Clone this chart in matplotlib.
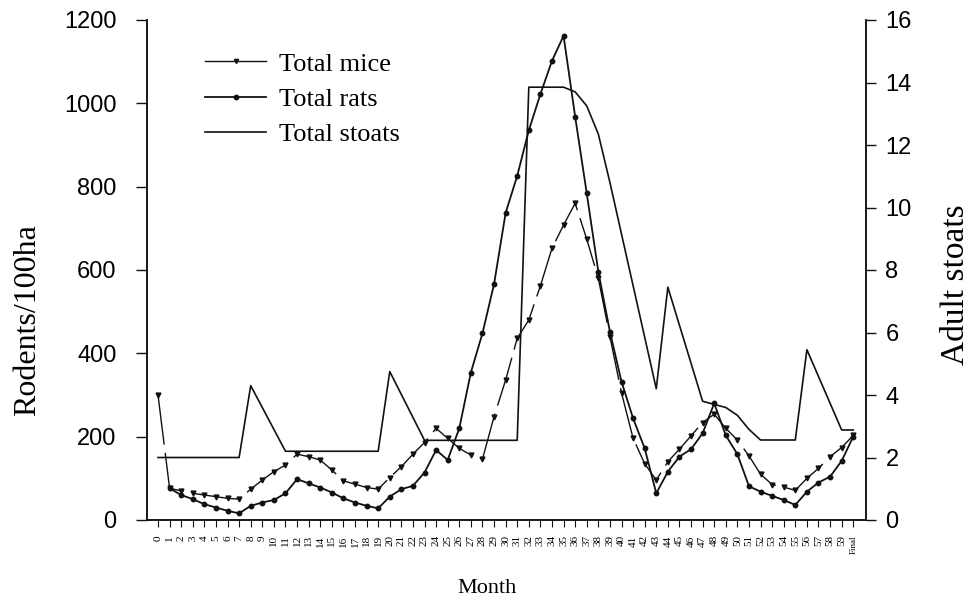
import matplotlib.pyplot as plt
from matplotlib.lines import Line2D

# months 0..59 then the "Final" sample
months = list(range(61))
month_labels = [str(i) for i in range(60)] + ['Final']

mice = [300, 76, 70, 64, 60, 56, 52, 50, 74, 96,
        116, 132, 158, 152, 144, 120, 94, 86, 78, 74,
        102, 128, 158, 186, 220, 196, 172, 156, 146, 248,
        336, 436, 480, 562, 652, 708, 760, 674, 580, 440,
        305, 196, 135, 96, 140, 170, 202, 234, 254, 220,
        192, 154, 110, 85, 79, 71, 100, 124, 152, 174,
        203]

rat_months = list(range(1, 61))
rats = [76, 60, 50, 38, 30, 22, 16, 34, 42,
        48, 64, 98, 88, 78, 66, 52, 42, 34, 28,
        56, 74, 82, 114, 168, 144, 220, 354, 448, 566,
        737, 826, 935, 1022, 1102, 1162, 968, 784, 596, 452,
        332, 244, 172, 64, 116, 152, 170, 208, 280, 203,
        158, 81, 68, 58, 48, 36, 68, 90, 104, 142,
        200]

stoat_months = [0, 7, 8, 11, 19, 20, 23, 31, 32, 35, 36, 37, 38, 39,
                43, 44, 47, 48, 49, 50, 51, 52, 55, 56, 59, 60]
stoats = [2.0, 2.0, 4.3, 2.2, 2.2, 4.75, 2.55, 2.55, 13.85, 13.85, 13.7, 13.25, 12.35, 10.8,
          4.2, 7.45, 3.8, 3.7, 3.6, 3.35, 2.9, 2.56, 2.56, 5.45, 2.88, 2.88]

serif = 'Liberation Serif'
sans = 'Liberation Sans'
ink = '#111111'

fig = plt.figure(figsize=(9.72, 6.03), dpi=100)
ax = fig.add_axes([147 / 972, 1 - 520 / 603, 719 / 972, 500 / 603])
ax2 = ax.twinx()

ax.plot(months, mice, color=ink, lw=1.0, ls=(0, (36, 6)),
        marker='v', ms=3.5, mfc=ink, mec=ink)
l_rats, = ax.plot(rat_months, rats, color=ink, lw=1.3,
                  marker='o', ms=3.2, mfc=ink, mec=ink, label='Total rats')
l_stoats, = ax2.plot(stoat_months, stoats, color=ink, lw=1.2, label='Total stoats')

# legend sample for mice is drawn unbroken, as in the original
mice_handle = Line2D([], [], color=ink, lw=1.0, marker='v', ms=3.0,
                     mfc=ink, mec=ink, label='Total mice')

ax.set_xlim(-0.95, 61.1)
ax.set_ylim(0, 1200)
ax2.set_ylim(0, 16)

ax.set_yticks(range(0, 1201, 200))
ax2.set_yticks(range(0, 17, 2))
ax.set_xticks(months)
ax.set_xticklabels(month_labels, rotation=90, fontsize=8, family=serif, va='top')
ax.get_xticklabels()[-1].set_fontsize(6.5)

for lab in ax.get_yticklabels() + ax2.get_yticklabels():
    lab.set_family(sans)

ax.tick_params(axis='y', direction='out', length=8, pad=14, labelsize=17, width=1, color=ink)
ax.tick_params(axis='x', direction='out', length=5, pad=6, width=0.8, color=ink)
ax2.tick_params(axis='y', direction='out', length=7, pad=7, labelsize=17, width=1, color=ink)

for a in (ax, ax2):
    a.spines['top'].set_visible(False)
    for s in ('left', 'right', 'bottom'):
        a.spines[s].set_color(ink)
        a.spines[s].set_linewidth(1.1)

ax.set_ylabel('Rodents/100ha', fontsize=23, family=serif)
ax.yaxis.set_label_coords(-0.146, 0.40)
ax2.set_ylabel('Adult stoats', rotation=90, fontsize=24, family=serif)
ax2.yaxis.set_label_coords(1.103, 0.47)
ax.set_xlabel('Month', fontsize=16, family=serif)
ax.xaxis.set_label_coords(0.473, -0.118)

leg = ax2.legend(handles=[mice_handle, l_rats, l_stoats], loc='upper left',
                 bbox_to_anchor=(0.048, 0.983), frameon=False,
                 prop={'family': serif, 'size': 19}, handlelength=2.3,
                 handletextpad=0.5, labelspacing=0.45, numpoints=1)

fig.savefig('out.png', dpi=100, facecolor='white')
